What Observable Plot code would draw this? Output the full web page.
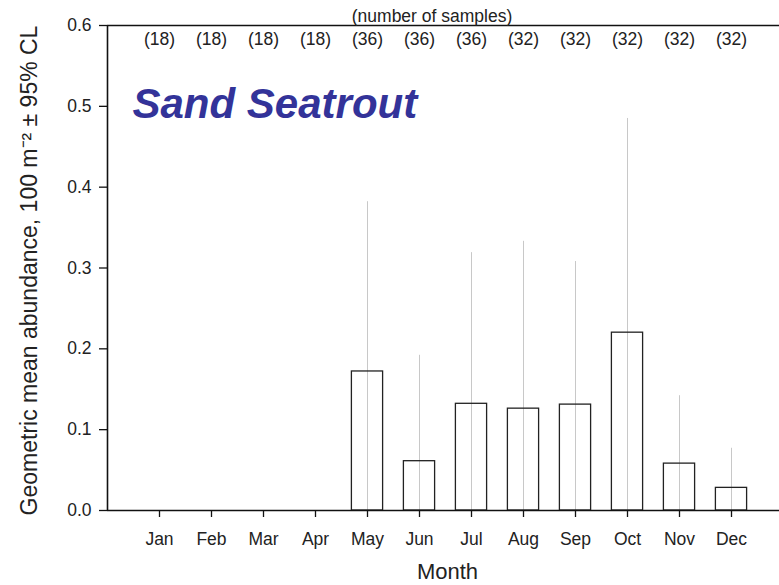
<!DOCTYPE html>
<html>
<head>
<meta charset="utf-8">
<script src="https://cdn.jsdelivr.net/npm/d3@7"></script>
<script src="https://cdn.jsdelivr.net/npm/@observablehq/plot@0.6"></script>
<style>
  html, body { margin: 0; padding: 0; background: #fff; }
  #chart svg { display: block; }
</style>
</head>
<body>
<div id="chart"></div>
<script>
const months = ["Jan","Feb","Mar","Apr","May","Jun","Jul","Aug","Sep","Oct","Nov","Dec"];
const monthIndex = [1,2,3,4,5,6,7,8,9,10,11,12];
const samples = [18,18,18,18,36,36,36,32,32,32,32,32];
const means = [0,0,0,0,0.172,0.061,0.132,0.126,0.131,0.220,0.058,0.028];
const upperCL = [0,0,0,0,0.382,0.192,0.319,0.333,0.308,0.485,0.142,0.077];
const yTicks = [0,0.1,0.2,0.3,0.4,0.5,0.6];

const data = months.map((m, i) => ({
  month: m, idx: monthIndex[i], n: samples[i], mean: means[i], upper: upperCL[i]
}));
const present = data.filter(d => d.mean > 0);

const font = "Liberation Sans, Arial, sans-serif";

const chart = Plot.plot({
  width: 779,
  height: 585,
  marginLeft: 107,
  marginRight: 0,
  marginTop: 25,
  marginBottom: 75,
  style: { fontFamily: font, fontSize: "17.5px", color: "#222", background: "#fff" },
  x: { type: "linear", domain: [0, 13], range: [107, 783] },
  y: { domain: [0, 0.6], range: [510, 25] },
  marks: [
    Plot.ruleX(present, { x: "idx", y1: 0, y2: "upper", stroke: "#c8c8c8", strokeWidth: 1 }),
    Plot.rectY(present, { x1: d => d.idx - 0.3, x2: d => d.idx + 0.3, y1: 0, y2: "mean", fill: "none", stroke: "#222", strokeWidth: 1.3 }),
    Plot.ruleY([0], { stroke: "#111", strokeWidth: 1.6 }),
    Plot.ruleY([0.6], { stroke: "#111", strokeWidth: 1.3 }),
    Plot.ruleX([0], { stroke: "#111", strokeWidth: 1.6 }),
    Plot.axisX(monthIndex, {
      tickSize: 7, tickPadding: 15, tickFormat: i => months[i - 1],
      fontSize: 17.5, label: null, stroke: "#111", strokeWidth: 1.3, fill: "#222"
    }),
    Plot.axisY(yTicks, {
      tickSize: 8, tickPadding: 8, tickFormat: d3.format(".1f"),
      fontSize: 17.5, label: null, stroke: "#111", strokeWidth: 1.3, fill: "#222"
    }),
    Plot.text(data, {
      x: "idx", frameAnchor: "top", lineAnchor: "top", dy: 7, text: d => `(${d.n})`,
      fontSize: 17.5, fill: "#222"
    }),
    Plot.text(["(number of samples)"], {
      frameAnchor: "top", lineAnchor: "top", dx: -11.5, dy: -16, fontSize: 17.5, fill: "#222"
    }),
    Plot.text(["Sand Seatrout"], {
      frameAnchor: "top-left", lineAnchor: "top", dx: 25, dy: 63, textAnchor: "start",
      fontSize: 42, fontWeight: "bold", fontStyle: "italic", fill: "#333399"
    }),
    Plot.text(["Month"], {
      frameAnchor: "bottom", lineAnchor: "middle", dx: 4, dy: 61, fontSize: 22, fill: "#222"
    }),
    Plot.text(["Geometric mean abundance, 100 m\u207B\u00B2 \u00B1 95% CL"], {
      frameAnchor: "left", lineAnchor: "middle", textAnchor: "middle", dx: -78, dy: 2.5, rotate: -90, fontSize: 23, fill: "#222"
    })
  ]
});
document.getElementById("chart").appendChild(chart);
</script>
</body>
</html>
